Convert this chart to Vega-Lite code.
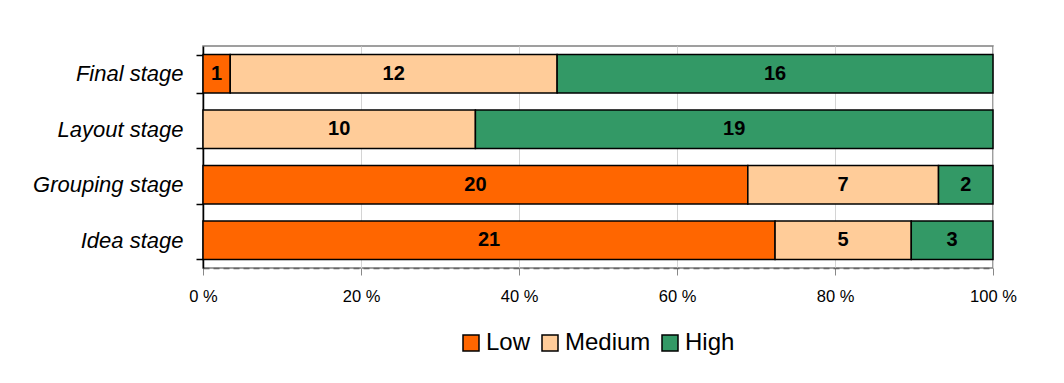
{
  "$schema": "https://vega.github.io/schema/vega-lite/v6.json",
  "autosize": {"type": "none"},
  "padding": {"left": 203, "top": 46, "right": 71, "bottom": 115},
  "width": 790,
  "height": 222,
  "background": "white",
  "config": {
    "font": "Liberation Sans",
    "view": {"stroke": "#808080", "strokeWidth": 1.5}
  },
  "data": {
    "values": [
      {"stage": "Final stage", "level": "Low", "count": 1, "ord": 1},
      {"stage": "Final stage", "level": "Medium", "count": 12, "ord": 2},
      {"stage": "Final stage", "level": "High", "count": 16, "ord": 3},
      {"stage": "Layout stage", "level": "Medium", "count": 10, "ord": 2},
      {"stage": "Layout stage", "level": "High", "count": 19, "ord": 3},
      {"stage": "Grouping stage", "level": "Low", "count": 20, "ord": 1},
      {"stage": "Grouping stage", "level": "Medium", "count": 7, "ord": 2},
      {"stage": "Grouping stage", "level": "High", "count": 2, "ord": 3},
      {"stage": "Idea stage", "level": "Low", "count": 21, "ord": 1},
      {"stage": "Idea stage", "level": "Medium", "count": 5, "ord": 2},
      {"stage": "Idea stage", "level": "High", "count": 3, "ord": 3}
    ]
  },
  "encoding": {
    "y": {
      "field": "stage",
      "type": "nominal",
      "sort": ["Final stage", "Layout stage", "Grouping stage", "Idea stage"],
      "scale": {"paddingInner": 0.31, "paddingOuter": 0.155},
      "axis": {
        "title": null,
        "tickBand": "extent",
        "domainColor": "black",
        "domainWidth": 1.5,
        "tickColor": "black",
        "tickWidth": 1.5,
        "tickSize": 7,
        "labelFont": "Liberation Sans",
        "labelFontSize": 22,
        "labelFontStyle": "italic",
        "labelColor": "black",
        "labelPadding": 13,
        "grid": false
      }
    },
    "order": {"field": "ord", "type": "quantitative"}
  },
  "layer": [
    {
      "mark": {"type": "bar", "stroke": "black", "strokeWidth": 1.5},
      "encoding": {
        "x": {
          "field": "count",
          "type": "quantitative",
          "stack": "normalize",
          "scale": {"domain": [0, 1], "nice": false},
          "axis": {
            "title": null,
            "values": [0, 0.2, 0.4, 0.6, 0.8, 1],
            "labelExpr": "format(datum.value * 100, 'd') + ' %'",
            "labelFlush": false,
            "labelFontSize": 16.5,
            "labelColor": "black",
            "labelPadding": 13,
            "tickSize": 7,
            "tickColor": "#888888",
            "domainColor": "#666666",
            "domainDash": [6, 4],
            "domainWidth": 1.5,
            "grid": true,
            "gridColor": "#d4d4d4",
            "gridWidth": 1
          }
        },
        "color": {
          "field": "level",
          "type": "nominal",
          "scale": {
            "domain": ["Low", "Medium", "High"],
            "range": ["#FF6600", "#FFCC99", "#339966"]
          },
          "legend": {
            "title": null,
            "orient": "none",
            "direction": "horizontal",
            "legendX": 256,
            "legendY": 285,
            "padding": 0,
            "symbolType": "square",
            "symbolSize": 256,
            "symbolStrokeColor": "black",
            "symbolStrokeWidth": 1.5,
            "symbolOpacity": 1,
            "labelFontSize": 24,
            "labelColor": "black",
            "labelOffset": 3,
            "columnPadding": 7
          }
        }
      }
    },
    {
      "mark": {"type": "text", "fontSize": 20, "fontWeight": "bold", "color": "black", "baseline": "middle", "align": "center"},
      "encoding": {
        "x": {"field": "count", "type": "quantitative", "stack": "normalize", "bandPosition": 0.5},
        "text": {"field": "count", "type": "quantitative"}
      }
    }
  ]
}
